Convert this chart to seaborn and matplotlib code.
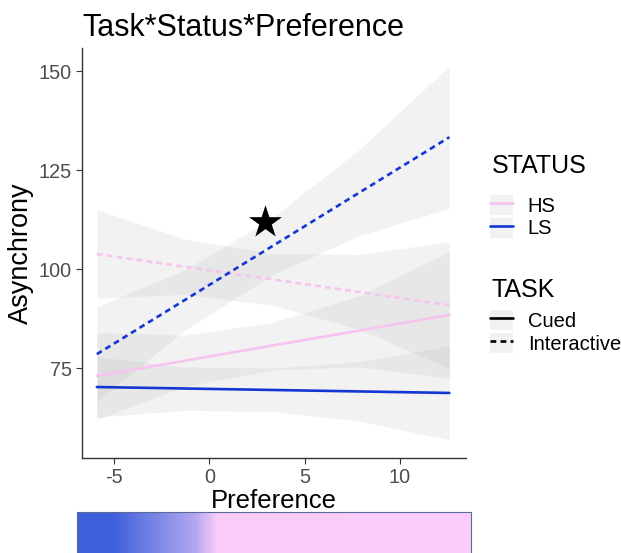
import matplotlib
matplotlib.use("Agg")
import matplotlib.pyplot as plt
import seaborn as sns
import pandas as pd
import numpy as np
from matplotlib.lines import Line2D
from matplotlib.patches import Patch
from matplotlib.legend_handler import HandlerTuple
from matplotlib.colors import LinearSegmentedColormap

# Fitted line ends (Preference range of the data)
pref_ends = [-5.9, 12.6]
fit_hs_cued = [73.0, 88.4]
fit_ls_cued = [70.2, 68.7]
fit_hs_inter = [103.8, 90.9]
fit_ls_inter = [78.5, 133.3]

# Confidence bands read at a few Preference values
band_x = [-5.9, -1.3, 3.3, 7.9, 12.6]
hs_cued_lo = [62.0, 70.3, 74.5, 75.3, 72.4]
hs_cued_hi = [84.0, 83.3, 86.5, 93.3, 104.4]
ls_cued_lo = [62.6, 64.3, 64.0, 61.6, 56.8]
ls_cued_hi = [77.8, 75.3, 75.0, 76.6, 80.6]
hs_inter_lo = [92.6, 93.6, 90.9, 84.7, 74.9]
hs_inter_hi = [115.0, 107.6, 103.9, 103.7, 106.9]
ls_inter_lo = [66.5, 84.5, 98.5, 108.5, 115.3]
ls_inter_hi = [90.5, 99.7, 112.9, 130.3, 151.3]

# Significance marker
star_x, star_y = [2.9], [112.0]

# Colour strip under the plot
strip_stops = [0.0, 0.085, 0.30, 0.355, 1.0]
strip_colors = ["#3c5fda", "#3c5fda", "#b2a8f1", "#fbcbf8", "#fccdfa"]

pink = "#f6c4ef"
blue = "#1336d4"

rows = []
for task, status, fit in [("Cued", "HS", fit_hs_cued), ("Cued", "LS", fit_ls_cued),
                          ("Interactive", "HS", fit_hs_inter), ("Interactive", "LS", fit_ls_inter)]:
    for x, y in zip(pref_ends, fit):
        rows.append({"Preference": x, "Asynchrony": y, "STATUS": status, "TASK": task})
df = pd.DataFrame(rows)

sns.set_style("white")
plt.rcParams["font.family"] = ["Liberation Sans", "DejaVu Sans"]
plt.rcParams["axes.unicode_minus"] = False
plt.rcParams["text.color"] = "black"

fig = plt.figure(figsize=(6.21, 5.53), dpi=100)
ax = fig.add_axes([0.132, 0.172, 0.618, 0.741])

for lo, hi in [(hs_cued_lo, hs_cued_hi), (ls_cued_lo, ls_cued_hi),
               (hs_inter_lo, hs_inter_hi), (ls_inter_lo, ls_inter_hi)]:
    ax.fill_between(band_x, lo, hi, color="#999999", alpha=0.12, linewidth=0)

sns.lineplot(data=df, x="Preference", y="Asynchrony", hue="STATUS", style="TASK",
             palette={"HS": pink, "LS": blue},
             dashes={"Cued": "", "Interactive": (2.2, 1.6)},
             linewidth=1.9, legend=False, ax=ax)

ax.scatter(star_x, star_y, marker="*", s=620, color="black", zorder=5, linewidths=0)

ax.set_xlim(-6.68, 13.46)
ax.set_ylim(52.3, 155.8)
ax.set_xticks([-5, 0, 5, 10])
ax.set_yticks([75, 100, 125, 150])
for s in ["top", "right"]:
    ax.spines[s].set_visible(False)
for s in ["left", "bottom"]:
    ax.spines[s].set_color("#333333")
    ax.spines[s].set_linewidth(1.0)
ax.tick_params(axis="both", direction="out", length=4, width=0.8, color="#333333",
               labelsize=14.3, labelcolor="#4d4d4d", left=True, bottom=True)
ax.set_xlabel("Preference", fontsize=18.5, color="black", labelpad=1)
ax.set_ylabel("Asynchrony", fontsize=19.5, color="black", labelpad=3)
ax.set_title("Task*Status*Preference", fontsize=22, loc="left", x=0.0, pad=9, color="black")

# Legends: titles as plain text, entries as untitled legends
key_bg = Patch(facecolor="#f2f2f2", edgecolor="none")
status_handles = [(key_bg, Line2D([], [], color=pink, lw=1.9)),
                  (key_bg, Line2D([], [], color=blue, lw=1.9))]
task_handles = [(key_bg, Line2D([], [], color="black", lw=1.9)),
                (key_bg, Line2D([], [], color="black", lw=1.9, dashes=(2.2, 1.6)))]

leg_kw = dict(handler_map={tuple: HandlerTuple(ndivide=1)}, loc="upper left",
              frameon=False, fontsize=14.5, handlelength=1.15,
              handleheight=1.16, labelspacing=0.1, handletextpad=0.72,
              borderpad=0, borderaxespad=0)
fig.text(492 / 621, 1 - 165.5 / 553, "STATUS", fontsize=18, va="center", ha="left")
fig.text(492 / 621, 1 - 290 / 553, "TASK", fontsize=18, va="center", ha="left")
leg1 = fig.legend(status_handles, ["HS", "LS"], bbox_to_anchor=(490 / 621, 0.648), **leg_kw)
leg2 = fig.legend(task_handles, ["Cued", "Interactive"], bbox_to_anchor=(490 / 621, 0.4395), **leg_kw)

# Colour strip along the bottom
cax = fig.add_axes([77 / 621, -0.01, 394 / 621, 41 / 553 + 0.01])
cmap = LinearSegmentedColormap.from_list("strip", list(zip(strip_stops, strip_colors)))
cax.imshow(np.linspace(0, 1, 400)[None, :], aspect="auto", cmap=cmap, extent=[0, 1, 0, 1])
cax.set_xticks([])
cax.set_yticks([])
for s in cax.spines.values():
    s.set_color("#5a6a9a")
    s.set_linewidth(0.8)

fig.savefig("out.png", dpi=100)
